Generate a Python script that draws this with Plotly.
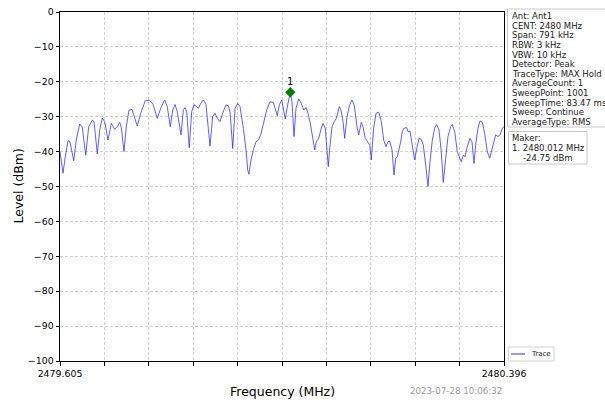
import plotly.graph_objects as go

# ---- data ----
freq_mhz = [
    2479.6050, 2479.6103, 2479.6144, 2479.6193, 2479.6228, 2479.6294, 2479.6340, 2479.6401,
    2479.6447, 2479.6508, 2479.6561, 2479.6625, 2479.6656, 2479.6715, 2479.6757, 2479.6804,
    2479.6846, 2479.6905, 2479.6964, 2479.7024, 2479.7071, 2479.7114, 2479.7142, 2479.7190,
    2479.7231, 2479.7279, 2479.7333, 2479.7368, 2479.7427, 2479.7488, 2479.7570, 2479.7648,
    2479.7707, 2479.7783, 2479.7855, 2479.7915, 2479.7961, 2479.8015, 2479.8058, 2479.8099,
    2479.8140, 2479.8206, 2479.8247, 2479.8277, 2479.8307, 2479.8353, 2479.8396, 2479.8437,
    2479.8485, 2479.8514, 2479.8557, 2479.8603, 2479.8651, 2479.8722, 2479.8770, 2479.8811,
    2479.8852, 2479.8900, 2479.8948, 2479.9007, 2479.9048, 2479.9079, 2479.9127, 2479.9168,
    2479.9216, 2479.9257, 2479.9316, 2479.9364, 2479.9394, 2479.9417, 2479.9447, 2479.9494,
    2479.9542, 2479.9583, 2479.9626, 2479.9672, 2479.9732, 2479.9791, 2479.9850, 2479.9921,
    2479.9957, 2480.0000, 2480.0035, 2480.0064, 2480.0094, 2480.0135, 2480.0153, 2480.0183,
    2480.0219, 2480.0254, 2480.0303, 2480.0349, 2480.0392, 2480.0432, 2480.0468, 2480.0509,
    2480.0552, 2480.0588, 2480.0616, 2480.0659, 2480.0705, 2480.0736, 2480.0776, 2480.0812,
    2480.0830, 2480.0855, 2480.0896, 2480.0937, 2480.0973, 2480.1026, 2480.1056, 2480.1092,
    2480.1122, 2480.1163, 2480.1211, 2480.1252, 2480.1293, 2480.1341, 2480.1372, 2480.1418,
    2480.1448, 2480.1489, 2480.1537, 2480.1567, 2480.1596, 2480.1638, 2480.1680, 2480.1728,
    2480.1774, 2480.1817, 2480.1858, 2480.1893, 2480.1924, 2480.1965, 2480.2000, 2480.2031,
    2480.2059, 2480.2089, 2480.2119, 2480.2148, 2480.2178, 2480.2226, 2480.2249, 2480.2285,
    2480.2326, 2480.2369, 2480.2405, 2480.2446, 2480.2487, 2480.2522, 2480.2565, 2480.2606,
    2480.2642, 2480.2683, 2480.2725, 2480.2761, 2480.2802, 2480.2843, 2480.2878, 2480.2921,
    2480.2962, 2480.3010, 2480.3039, 2480.3082, 2480.3128, 2480.3164, 2480.3199, 2480.3235,
    2480.3265, 2480.3306, 2480.3354, 2480.3390, 2480.3425, 2480.3461, 2480.3497, 2480.3532,
    2480.3573, 2480.3616, 2480.3662, 2480.3705, 2480.3741, 2480.3770, 2480.3812, 2480.3853,
    2480.3889, 2480.3930, 2480.3960,
]

level_dbm = [
    -40.0, -46.2, -41.5, -36.9, -37.2, -42.6, -36.7, -32.1,
    -33.0, -41.0, -32.9, -31.0, -31.4, -40.7, -33.8, -30.4,
    -31.4, -36.7, -31.9, -33.6, -32.9, -31.6, -33.0, -40.0,
    -32.9, -28.1, -27.9, -29.5, -32.7, -29.0, -25.4, -25.4,
    -26.4, -30.5, -27.1, -25.2, -27.1, -32.9, -28.1, -26.5,
    -28.6, -35.2, -28.1, -27.4, -28.6, -38.9, -28.6, -26.5,
    -27.1, -27.6, -26.2, -25.2, -26.5, -38.4, -30.0, -29.0,
    -30.5, -31.4, -29.0, -26.6, -26.8, -28.6, -39.1, -27.6,
    -26.2, -27.1, -33.3, -39.5, -45.3, -46.5, -42.9, -39.5,
    -37.2, -36.7, -35.2, -32.4, -28.1, -25.7, -25.9, -29.7,
    -26.6, -25.2, -28.1, -30.7, -27.6, -24.3, -23.0, -25.7,
    -35.7, -27.6, -24.9, -26.2, -28.1, -27.4, -29.0, -31.9,
    -36.2, -39.5, -37.2, -36.2, -33.3, -31.9, -33.3, -40.0,
    -44.3, -39.1, -32.9, -31.4, -30.5, -27.1, -28.1, -31.4,
    -36.2, -30.0, -26.6, -25.2, -26.8, -32.9, -35.2, -31.6,
    -32.9, -36.2, -37.6, -38.1, -42.4, -33.3, -29.0, -28.7,
    -31.4, -36.7, -38.6, -37.2, -37.0, -39.5, -46.7, -41.9,
    -41.5, -39.5, -37.2, -34.3, -33.3, -33.1, -34.3, -34.1,
    -37.6, -42.4, -39.1, -36.2, -36.5, -38.1, -43.8, -50.0,
    -42.9, -36.7, -33.3, -32.2, -33.8, -40.0, -48.8, -41.0,
    -35.7, -32.9, -32.2, -34.3, -40.0, -41.5, -42.9, -41.0,
    -41.5, -38.6, -36.2, -37.2, -43.4, -37.2, -33.3, -31.2,
    -31.6, -34.8, -40.0, -41.9, -39.5, -37.2, -35.2, -35.7,
    -35.2, -33.3, -32.9,
]

marker_freq = [2480.0153]
marker_level = [-23.0]
marker_label = ["1"]

x_start = 2479.605
x_stop = 2480.396
x_tick_vals = [2479.605, 2479.6841, 2479.7632, 2479.8423, 2479.9214, 2480.0005,
               2480.0796, 2480.1587, 2480.2378, 2480.3169, 2480.396]
x_tick_text = ["2479.605", "", "", "", "", "", "", "", "", "", "2480.396"]
y_tick_vals = [0, -10, -20, -30, -40, -50, -60, -70, -80, -90, -100]
y_tick_text = ["0", "\u221210", "\u221220", "\u221230", "\u221240", "\u221250",
               "\u221260", "\u221270", "\u221280", "\u221290", "\u2212100"]

info_lines = [
    "Ant: Ant1", "CENT: 2480 MHz", "Span: 791 kHz", "RBW: 3 kHz", "VBW: 10 kHz",
    "Detector: Peak", "TraceType: MAX Hold", "AverageCount: 1", "SweepPoint: 1001",
    "SweepTime: 83.47 ms", "Sweep: Continue", "AverageType: RMS",
]
marker_lines = ["Maker:", "1. 2480.012 MHz"]
marker_value_text = "-24.75 dBm"
timestamp = "2023-07-28 10:06:32"

# ---- layout geometry (pixels) ----
W, H = 605, 403
L, R, T, B = 60, 504, 12, 361
PW, PH = R - L, B - T


def px(x):
    return (x - L) / PW


def py(y):
    return (B - y) / PH


FONT = "DejaVu Sans"

fig = go.Figure()
fig.add_trace(go.Scatter(
    x=freq_mhz, y=level_dbm, mode="lines",
    line=dict(color="rgba(40,40,255,0.75)", width=1),
    name="Trace", showlegend=False, hoverinfo="skip",
))
fig.add_trace(go.Scatter(
    x=marker_freq, y=marker_level, mode="markers",
    marker=dict(symbol="diamond", color="#008000", size=8, line=dict(width=0)),
    showlegend=False, hoverinfo="skip",
))

annotations = []
# marker label
annotations.append(dict(
    x=marker_freq[0], y=marker_level[0], xref="x", yref="y", text=marker_label[0],
    showarrow=False, yanchor="bottom", yshift=3,
    font=dict(family=FONT, size=10, color="#000"),
))
# axis titles
annotations.append(dict(
    x=px(18), y=0.5, xref="paper", yref="paper", text="Level (dBm)", textangle=-90,
    showarrow=False, xanchor="center", yanchor="middle",
    font=dict(family=FONT, size=12.5, color="#000"),
))
annotations.append(dict(
    x=px(282), y=py(391), xref="paper", yref="paper", text="Frequency (MHz)",
    showarrow=False, xanchor="center", yanchor="middle",
    font=dict(family=FONT, size=12.5, color="#000"),
))
annotations.append(dict(
    x=px(504), y=py(391), xref="paper", yref="paper", text=timestamp,
    showarrow=False, xanchor="right", yanchor="middle",
    font=dict(family=FONT, size=8.7, color="#999999"),
))
# info box text
for i, line in enumerate(info_lines):
    annotations.append(dict(
        x=px(510), y=py(16 + i * 9.64), xref="paper", yref="paper", text=line,
        showarrow=False, xanchor="left", yanchor="middle",
        font=dict(family=FONT, size=8.5, color="#222"),
    ))
# marker box text
for i, line in enumerate(marker_lines):
    annotations.append(dict(
        x=px(510), y=py(138 + i * 10), xref="paper", yref="paper", text=line,
        showarrow=False, xanchor="left", yanchor="middle",
        font=dict(family=FONT, size=8.5, color="#222"),
    ))
annotations.append(dict(
    x=px(521), y=py(158), xref="paper", yref="paper", text=marker_value_text,
    showarrow=False, xanchor="left", yanchor="middle",
    font=dict(family=FONT, size=8.5, color="#222"),
))
# legend text
annotations.append(dict(
    x=px(529), y=py(354), xref="paper", yref="paper", text="Trace",
    showarrow=False, xanchor="left", yanchor="middle",
    font=dict(family=FONT, size=7, color="#222"),
))

shapes = [
    # info box
    dict(type="rect", xref="paper", yref="paper", x0=px(507.5), x1=px(615),
         y0=py(9), y1=py(127), line=dict(color="#c8c8c8", width=1), fillcolor="white", layer="below"),
    # marker box
    dict(type="rect", xref="paper", yref="paper", x0=px(508.5), x1=px(587),
         y0=py(131.5), y1=py(164), line=dict(color="#c8c8c8", width=1), fillcolor="white", layer="below"),
    # legend box
    dict(type="rect", xref="paper", yref="paper", x0=px(508.5), x1=px(554),
         y0=py(347), y1=py(361), line=dict(color="#d0d0d0", width=1), fillcolor="white", layer="below"),
    dict(type="line", xref="paper", yref="paper", x0=px(511), x1=px(525),
         y0=py(354), y1=py(354), line=dict(color="rgba(40,40,255,0.8)", width=1.2)),
]

axis_common = dict(
    showline=True, linecolor="#000", linewidth=1, mirror=True,
    ticks="outside", ticklen=3.5, tickcolor="#000", tickwidth=1,
    showgrid=True, gridcolor="#cfcfcf", gridwidth=0.8, griddash="3px,2px",
    zeroline=False, tickfont=dict(family=FONT, size=9.4, color="#000"),
    automargin=False,
)

fig.update_layout(
    width=W, height=H,
    margin=dict(l=L, r=W - R, t=T, b=H - B, pad=0, autoexpand=False),
    paper_bgcolor="white", plot_bgcolor="white",
    showlegend=False,
    xaxis=dict(range=[x_start, x_stop], tickmode="array", tickvals=x_tick_vals,
               ticktext=x_tick_text, **axis_common),
    yaxis=dict(range=[-100, 0], tickmode="array", tickvals=y_tick_vals,
               ticktext=y_tick_text, **axis_common),
    annotations=annotations,
    shapes=shapes,
)

fig.write_html("out.html")
